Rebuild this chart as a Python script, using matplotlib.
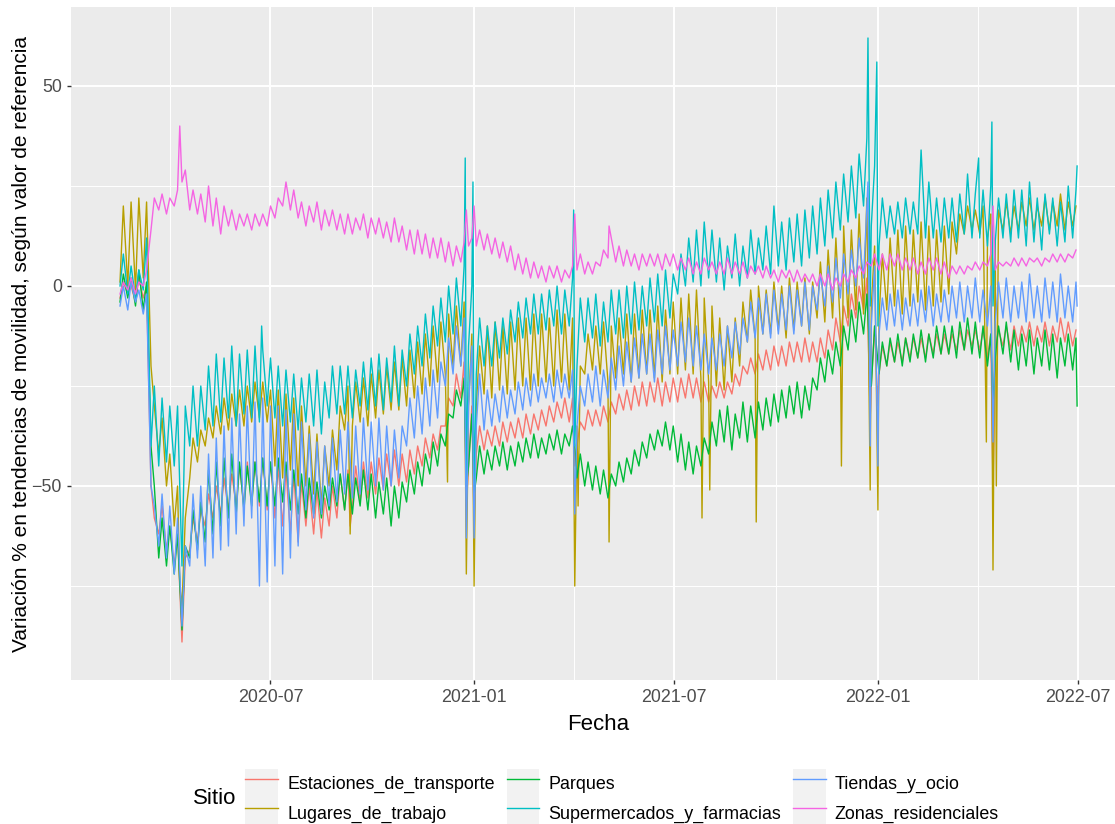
import pandas as pd
import matplotlib
matplotlib.use("Agg")
import matplotlib.pyplot as plt
import matplotlib.dates as mdates
from matplotlib.lines import Line2D
from matplotlib.patches import Patch
from matplotlib.legend_handler import HandlerTuple

# --- DATOS: una semana por valor, desde el sábado 2020-02-15 ---
# *_dom = domingo de cada semana, *_sem = martes de cada semana
inicio = "2020-02-15"
fin = "2022-06-30"

transporte_dom = [
    -3, -2, -4, -3, -50, -62, -66, -70, -89, -66,
    -64, -60, -58, -57, -56, -55, -55, -54, -55, -56,
    -58, -60, -62, -64, -60, -62, -63, -60, -58, -56,
    -55, -54, -53, -52, -51, -50, -50, -49, -47, -45,
    -43, -41, -35, -30, -28, -45, -42, -41, -40, -40,
    -39, -38, -38, -37, -36, -35, -34, -33, -34, -40,
    -36, -35, -35, -34, -32, -31, -31, -30, -30, -29,
    -30, -29, -29, -28, -28, -29, -29, -28, -28, -27,
    -25, -22, -22, -21, -21, -20, -20, -19, -19, -19,
    -19, -18, -16, -14, -10, -8, -6, -25, -22, -20,
    -19, -19, -18, -18, -18, -17, -17, -17, -16, -16,
    -15, -16, -18, -16, -15, -16, -15, -14, -15, -14,
    -15, -14, -14, -15]
transporte_sem = [
    1, 0, 2, 0, -58, -55, -60, -62, -68, -58,
    -56, -52, -50, -48, -47, -45, -44, -44, -43, -44,
    -45, -46, -47, -49, -50, -51, -53, -50, -47, -46,
    -45, -44, -44, -43, -42, -41, -42, -41, -40, -38,
    -37, -35, -28, -22, -19, -30, -35, -36, -35, -34,
    -34, -33, -32, -32, -31, -30, -29, -28, -28, -34,
    -31, -31, -30, -29, -27, -26, -25, -24, -24, -23,
    -24, -23, -23, -22, -23, -24, -25, -24, -24, -22,
    -20, -18, -17, -16, -15, -15, -14, -14, -13, -14,
    -13, -11, -8, -5, -2, 0, 2, -10, -15, -14,
    -14, -13, -13, -13, -12, -12, -12, -12, -11, -11,
    -11, -11, -12, -11, -10, -10, -10, -9, -10, -9,
    -10, -8, -9, -11]
transporte_picos = [("2020-09-11", -60), ("2020-12-25", -55), ("2021-01-01", -58),
                    ("2021-04-02", -45), ("2021-12-25", -33), ("2022-01-01", -30),
                    ("2022-04-15", -50)]

trabajo_dom = [
    1, 0, -1, 2, -20, -42, -50, -60, -80, -48,
    -44, -40, -38, -37, -36, -35, -35, -34, -33, -34,
    -45, -48, -46, -50, -50, -52, -55, -50, -46, -36,
    -35, -34, -35, -33, -32, -31, -31, -30, -28, -27,
    -25, -24, -22, -20, -20, -30, -30, -27, -28, -26,
    -27, -26, -25, -26, -25, -24, -25, -24, -26, -35,
    -22, -21, -22, -24, -23, -22, -24, -23, -22, -23,
    -24, -22, -22, -21, -22, -23, -24, -25, -26, -24,
    -20, -14, -13, -12, -12, -11, -13, -11, -10, -12,
    -8, -9, -8, -10, -8, -6, -7, -5, -8, -6,
    -5, -7, -5, -4, -6, -5, -4, -2, 8, 13,
    14, 13, 12, 12, 14, 13, 14, 15, 14, 15,
    14, 15, 14, 15]
trabajo_sem = [
    20, 21, 22, 21, -30, -33, -42, -50, -58, -38,
    -36, -33, -30, -28, -27, -26, -25, -24, -24, -26,
    -26, -27, -28, -30, -35, -37, -40, -36, -30, -25,
    -24, -23, -22, -21, -20, -19, -18, -16, -14, -12,
    -10, -9, -7, -5, -4, -12, -15, -10, -9, -10,
    -9, -8, -8, -7, -7, -8, -6, -7, -8, -20,
    -12, -10, -9, -10, -8, -7, -7, -6, -6, -5,
    -6, -4, -3, -2, -1, -3, -5, -8, -10, -8,
    -4, -1, 0, -1, 1, 0, 2, 1, 2, 1,
    6, 9, 12, 15, 14, 18, 22, 10, 8, 12,
    14, 15, 14, 16, 15, 14, 15, 16, 18, 20,
    19, 20, 18, 19, 21, 20, 21, 22, 20, 22,
    21, 23, 21, 20]
trabajo_picos = [("2020-04-10", -75), ("2020-09-11", -62), ("2020-12-08", -49),
                 ("2020-12-25", -72), ("2021-01-01", -75), ("2021-04-02", -75),
                 ("2021-04-05", -55), ("2021-05-03", -64), ("2021-07-26", -58),
                 ("2021-08-02", -51), ("2021-09-13", -59), ("2021-11-29", -45),
                 ("2021-12-25", -51), ("2022-01-01", -56), ("2022-04-09", -39),
                 ("2022-04-15", -71), ("2022-04-18", -50)]

parques_dom = [
    -4, -3, -5, -6, -40, -68, -70, -72, -86, -68,
    -66, -64, -62, -60, -58, -57, -56, -55, -54, -55,
    -55, -54, -56, -57, -58, -57, -58, -56, -55, -56,
    -57, -55, -56, -58, -57, -60, -58, -54, -52, -50,
    -47, -45, -40, -33, -30, -45, -48, -47, -46, -45,
    -46, -45, -44, -43, -43, -42, -41, -42, -40, -48,
    -50, -51, -52, -53, -50, -49, -47, -45, -43, -41,
    -40, -41, -44, -46, -47, -45, -42, -40, -39, -41,
    -38, -39, -38, -36, -35, -34, -33, -32, -33, -31,
    -26, -24, -22, -20, -16, -14, -12, -25, -22, -20,
    -19, -20, -19, -18, -19, -18, -17, -17, -18, -16,
    -17, -18, -20, -18, -17, -19, -21, -20, -22, -20,
    -21, -23, -20, -21]
parques_sem = [
    3, 2, 4, 1, -50, -58, -60, -62, -65, -56,
    -54, -46, -44, -43, -42, -44, -45, -44, -43, -44,
    -43, -44, -46, -47, -48, -49, -50, -48, -47, -47,
    -48, -46, -47, -49, -48, -50, -49, -46, -44, -42,
    -39, -37, -32, -26, -23, -32, -40, -41, -40, -39,
    -40, -39, -38, -37, -38, -37, -36, -37, -35, -42,
    -44, -45, -46, -47, -44, -43, -41, -39, -37, -36,
    -34, -35, -37, -39, -40, -38, -34, -31, -30, -32,
    -29, -30, -29, -28, -27, -26, -25, -24, -25, -23,
    -18, -16, -14, -10, -6, -4, -2, -10, -14, -13,
    -12, -13, -12, -11, -12, -10, -10, -10, -9, -8,
    -9, -10, -12, -10, -9, -11, -12, -11, -13, -11,
    -12, -13, -12, -13]
parques_picos = [("2020-12-25", -50), ("2021-01-01", -52), ("2021-04-02", -40),
                 ("2022-04-15", -30), ("2022-06-30", -30)]

super_dom = [
    0, -2, -3, -1, -40, -45, -44, -45, -70, -40,
    -40, -36, -35, -34, -33, -35, -32, -33, -34, -30,
    -33, -35, -34, -36, -34, -35, -37, -33, -32, -32,
    -33, -30, -31, -30, -31, -29, -30, -25, -22, -20,
    -18, -15, -14, -12, -10, -15, -22, -20, -20, -18,
    -17, -14, -13, -12, -12, -11, -10, -12, -10, -20,
    -14, -13, -15, -14, -12, -13, -12, -11, -10, -9,
    -10, -8, -2, 0, 1, 0, 2, 1, -1, 2,
    0, 2, 3, 4, 3, 5, 4, 6, 5, 7,
    8, 10, 12, 14, 16, 17, 20, 15, 10, 12,
    13, 12, 13, 13, 12, 12, 11, 12, 11, 13,
    12, 12, 10, 11, 12, 11, 12, 10, 11, 9,
    13, 10, 11, 12]
super_sem = [
    8, 5, 4, 12, -25, -28, -30, -30, -30, -25,
    -25, -20, -17, -18, -15, -17, -16, -15, -16, -18,
    -20, -21, -22, -23, -22, -21, -24, -20, -20, -20,
    -21, -19, -18, -17, -18, -15, -16, -12, -10, -7,
    -5, -3, 0, 2, 5, 0, -8, -10, -9, -8,
    -6, -4, -3, -2, -2, -1, 0, -1, 2, -3,
    -3, -2, -4, -1, -1, 0, 1, 0, 2, 3,
    4, 3, 8, 12, 14, 16, 14, 12, 10, 13,
    10, 14, 12, 15, 20, 16, 17, 18, 19, 20,
    22, 24, 26, 28, 30, 33, 37, 30, 22, 20,
    21, 22, 21, 34, 26, 22, 22, 22, 23, 28,
    23, 24, 25, 22, 23, 24, 24, 26, 22, 23,
    22, 21, 25, 24]
super_picos = [("2020-06-23", -10), ("2020-12-24", 32), ("2020-12-25", -50),
               ("2020-12-31", 26), ("2021-01-01", -55), ("2021-04-01", 19),
               ("2021-04-02", -40), ("2021-12-23", 62), ("2021-12-25", -5),
               ("2021-12-31", 56), ("2022-01-01", -10), ("2022-04-02", 32),
               ("2022-04-14", 41), ("2022-04-15", -5), ("2022-06-30", 30)]

tiendas_dom = [
    -5, -6, -4, -7, -50, -65, -68, -72, -85, -70,
    -68, -70, -68, -66, -65, -62, -60, -58, -75, -74,
    -70, -72, -68, -65, -56, -58, -57, -55, -54, -52,
    -53, -52, -51, -50, -51, -50, -48, -40, -38, -37,
    -35, -33, -25, -22, -20, -30, -35, -36, -35, -34,
    -33, -32, -31, -30, -29, -28, -29, -28, -28, -35,
    -30, -29, -30, -28, -26, -25, -24, -23, -22, -24,
    -22, -21, -20, -19, -20, -21, -22, -21, -20, -18,
    -17, -14, -13, -12, -13, -12, -11, -12, -10, -11,
    -6, -5, -4, -3, -2, 0, 2, -10, -12, -11,
    -10, -11, -10, -10, -9, -10, -9, -9, -8, -9,
    -8, -9, -10, -9, -8, -9, -8, -9, -8, -9,
    -8, -9, -8, -9]
tiendas_sem = [
    0, 1, -1, -2, -55, -52, -55, -58, -65, -52,
    -50, -42, -38, -35, -33, -32, -30, -29, -28, -30,
    -30, -31, -32, -34, -37, -39, -40, -38, -36, -34,
    -35, -33, -34, -33, -35, -36, -35, -28, -25, -23,
    -21, -19, -13, -10, -8, -15, -22, -26, -27, -25,
    -26, -24, -23, -22, -23, -22, -21, -22, -21, -25,
    -22, -20, -21, -18, -15, -14, -13, -12, -12, -11,
    -10, -11, -9, -8, -10, -12, -13, -12, -10, -9,
    -8, -4, -3, -2, -1, -2, 0, -1, 1, 0,
    3, 5, 7, 8, 9, 12, 20, 5, -3, -2,
    -1, -3, -2, -1, 0, -2, -1, 0, 1, 0,
    2, -1, 0, 1, 2, 0, 1, 3, 0, 2,
    1, 3, 0, 1]
tiendas_picos = [("2020-12-25", -63), ("2021-01-01", -63), ("2021-04-02", -57),
                 ("2021-12-23", 26), ("2021-12-25", -40), ("2022-01-01", -45),
                 ("2022-04-15", -39), ("2022-06-30", -5)]

residencial_dom = [
    -2, -1, -2, 0, 14, 19, 18, 20, 26, 19,
    18, 16, 15, 13, 15, 14, 15, 14, 15, 15,
    17, 20, 19, 17, 15, 16, 14, 15, 14, 13,
    13, 14, 12, 13, 12, 11, 11, 9, 8, 8,
    7, 7, 6, 5, 6, 10, 10, 9, 8, 7,
    6, 4, 3, 2, 2, 1, 2, 1, 2, 4,
    3, 3, 5, 7, 6, 5, 5, 4, 5, 5,
    4, 5, 4, 4, 3, 3, 4, 3, 3, 3,
    3, 2, 3, 2, 2, 1, 2, 1, 1, 1,
    0, 0, -1, 0, 1, 2, 3, 5, 4, 4,
    5, 4, 4, 3, 3, 4, 3, 2, 3, 3,
    4, 4, 5, 4, 5, 5, 5, 5, 6, 5,
    6, 6, 6, 7]
residencial_sem = [
    1, 2, 1, 4, 22, 23, 22, 24, 29, 24,
    23, 25, 22, 20, 19, 18, 18, 18, 18, 20,
    22, 26, 24, 21, 20, 21, 19, 19, 18, 18,
    17, 18, 17, 17, 16, 17, 15, 14, 14, 13,
    12, 12, 11, 10, 11, 12, 14, 13, 12, 11,
    10, 8, 7, 6, 5, 5, 5, 4, 5, 8,
    6, 6, 9, 12, 10, 9, 8, 8, 8, 8,
    8, 8, 7, 7, 6, 7, 6, 6, 7, 6,
    6, 5, 5, 5, 4, 4, 4, 4, 3, 3,
    3, 3, 2, 3, 4, 5, 6, 8, 8, 8,
    8, 7, 7, 6, 7, 7, 6, 5, 5, 5,
    6, 6, 8, 6, 6, 7, 7, 7, 7, 7,
    8, 8, 8, 9]
residencial_picos = [("2020-04-10", 40), ("2020-12-25", 19), ("2021-01-01", 20),
                     ("2021-04-02", 18), ("2021-05-03", 15), ("2022-04-15", 20)]

sitios = ["Estaciones_de_transporte", "Lugares_de_trabajo", "Parques",
          "Supermercados_y_farmacias", "Tiendas_y_ocio", "Zonas_residenciales"]
colores = ["#F8766D", "#B79F00", "#00BA38", "#00BFC4", "#619CFF", "#F564E3"]
datos = [(transporte_dom, transporte_sem, transporte_picos),
         (trabajo_dom, trabajo_sem, trabajo_picos),
         (parques_dom, parques_sem, parques_picos),
         (super_dom, super_sem, super_picos),
         (tiendas_dom, tiendas_sem, tiendas_picos),
         (residencial_dom, residencial_sem, residencial_picos)]

semanas = pd.date_range(inicio, periods=len(transporte_dom), freq="7D")


def armar_serie(dom, sem, picos):
    base = pd.concat([pd.Series(dom, index=semanas + pd.Timedelta(days=1)),
                      pd.Series(sem, index=semanas + pd.Timedelta(days=4))])
    extra = pd.Series([v for _, v in picos], index=pd.to_datetime([f for f, _ in picos]))
    return extra.combine_first(base).sort_index()


# --- GRAFICO (estilo ggplot) ---
plt.rcParams['font.family'] = ['Liberation Sans', 'DejaVu Sans']

fig = plt.figure(figsize=(11.15, 8.24), dpi=100)
ax = fig.add_axes([71 / 1115, 144 / 824, 1054 / 1115, 673 / 824])
ax.set_facecolor('#EBEBEB')
for sp in ax.spines.values():
    sp.set_visible(False)

for nombre, color, (dom, sem, picos) in zip(sitios, colores, datos):
    s = armar_serie(dom, sem, picos)
    ax.plot(s.index, s.values, color=color, lw=1.0, label=nombre)

t0, t1 = pd.Timestamp(inicio), pd.Timestamp(fin)
rango = t1 - t0
ax.set_xlim(t0 - 0.05 * rango, t1 + 0.05 * rango)
ax.set_ylim(-98.5, 69.75)

ax.xaxis.set_major_locator(mdates.MonthLocator(bymonth=[1, 7]))
ax.xaxis.set_minor_locator(mdates.MonthLocator(bymonth=[4, 10]))
ax.xaxis.set_major_formatter(mdates.DateFormatter('%Y-%m'))
ax.set_yticks([-50, 0, 50])
ax.set_yticks([-75, -25, 25], minor=True)

ax.grid(which='major', color='white', lw=1.4)
ax.grid(which='minor', color='white', lw=0.7)
ax.set_axisbelow(True)
ax.tick_params(which='major', length=3, width=1, color='#333333',
               labelcolor='#4D4D4D', labelsize=12.9, pad=3.5)
ax.tick_params(which='minor', length=0)

ax.set_xlabel('Fecha', fontsize=16, labelpad=6)
ax.set_ylabel('Variación % en tendencias de movilidad, según valor de referencia',
              fontsize=15)
ax.yaxis.set_label_coords(-0.038, 0.5)

manejadores = [(Patch(facecolor='#F2F2F2', edgecolor='none'), Line2D([], [], color=c, lw=1.0))
               for c in colores]
fig.legend(manejadores, sitios, ncol=3, loc='center', bbox_to_anchor=(0.558, 0.0316),
           handler_map={tuple: HandlerTuple(ndivide=1, pad=0)}, frameon=False,
           fontsize=12.9, handlelength=1.84, handleheight=2.1, labelspacing=0.05,
           handletextpad=0.5, columnspacing=0.65, borderpad=0)
fig.text(193 / 1115, 26 / 824, 'Sitio', fontsize=16, ha='left', va='center')

fig.savefig('out.png', dpi=100)
